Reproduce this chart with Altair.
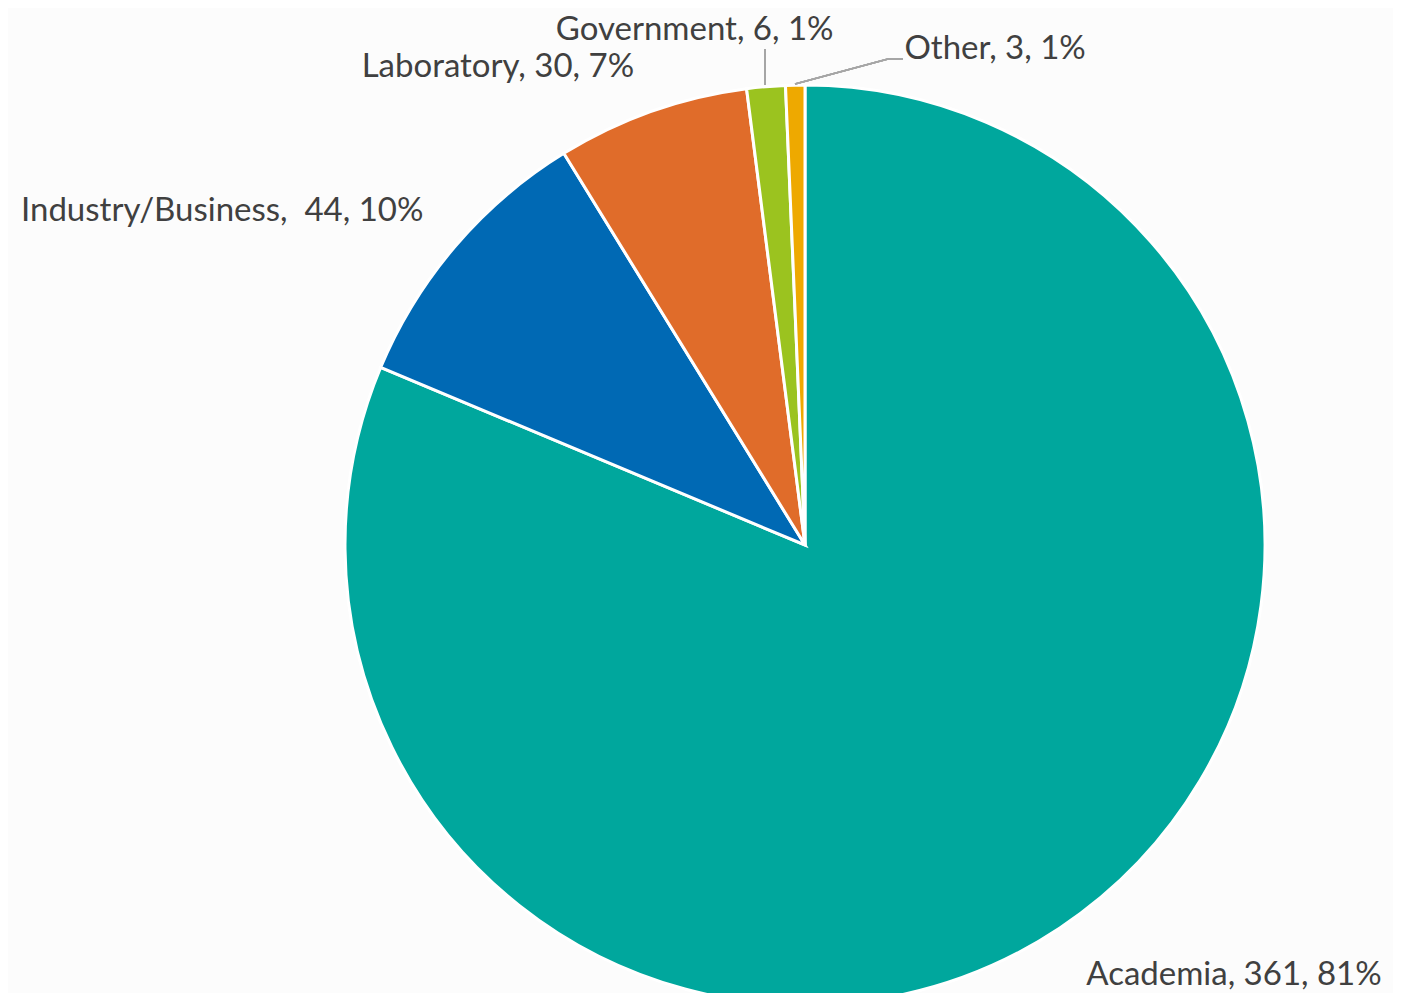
import altair as alt
import pandas as pd

categories = ["Academia", "Industry/Business", "Laboratory", "Government", "Other"]
values = [361, 44, 30, 6, 3]
labels = ["Academia, 361, 81%", "Industry/Business,\u00a0 44, 10%", "Laboratory, 30, 7%",
          "Government, 6, 1%", "Other, 3, 1%"]
colors = ["#00A79D", "#0069B4", "#E06C2A", "#9BC31F", "#EEA900"]

total = sum(values)
cum = []
s = 0
for v in values:
    cum.append(s + v / 2)
    s += v

df = pd.DataFrame({
    "category": categories,
    "value": values,
    "label": labels,
    "order": list(range(len(values))),
    "mid": cum,
})

CX, CY = 797, 537
FONT = "Lato"
FS = 33
TXT = "#404040"

theta_scale = alt.Scale(domain=[0, total])
base = alt.Chart(df)

pie = base.mark_arc(outerRadius=460, stroke="white", strokeWidth=3).encode(
    theta=alt.Theta("value:Q", stack=True, scale=theta_scale),
    color=alt.Color("category:N", scale=alt.Scale(domain=categories, range=colors), legend=None),
    order=alt.Order("order:Q"),
    x=alt.value(CX),
    y=alt.value(CY),
)

def label(cat, radius, align, dx=0, dy=0):
    return base.transform_filter(alt.datum.category == cat).mark_text(
        radius=radius, align=align, baseline="middle", dx=dx, dy=dy,
        font=FONT, fontSize=FS, color=TXT,
    ).encode(
        theta=alt.Theta("mid:Q", stack=None, scale=theta_scale),
        text="label:N",
        x=alt.value(CX),
        y=alt.value(CY),
    )

lab_acad = label("Academia", 513, "left", -3, 3)
lab_ind = label("Industry/Business", 510, "right", 6, -3)
lab_lab = label("Laboratory", 507, "right", -2, 0)
lab_gov = label("Government", 523, "center", -66, 6)
lab_oth = label("Other", 497, "left", 110, 1)

lead_color = "#A6A6A6"
lead_gov = base.mark_rule(color=lead_color, strokeWidth=1.5).encode(
    x=alt.value(757), y=alt.value(41), x2=alt.value(757), y2=alt.value(77)
)
lead_oth1 = base.mark_rule(color=lead_color, strokeWidth=1.5).encode(
    x=alt.value(787), y=alt.value(76), x2=alt.value(880), y2=alt.value(51)
)
lead_oth2 = base.mark_rule(color=lead_color, strokeWidth=1.5).encode(
    x=alt.value(880), y=alt.value(51), x2=alt.value(895), y2=alt.value(51)
)

chart = alt.layer(
    pie, lead_gov, lead_oth1, lead_oth2,
    lab_acad, lab_ind, lab_lab, lab_gov, lab_oth,
).properties(
    width=1385, height=985, background="#FCFCFC",
    autosize=alt.AutoSizeParams(type="none"), padding=0,
).configure_view(stroke=None)

chart.save("out.html", embed_options={"renderer": "svg", "actions": False})
